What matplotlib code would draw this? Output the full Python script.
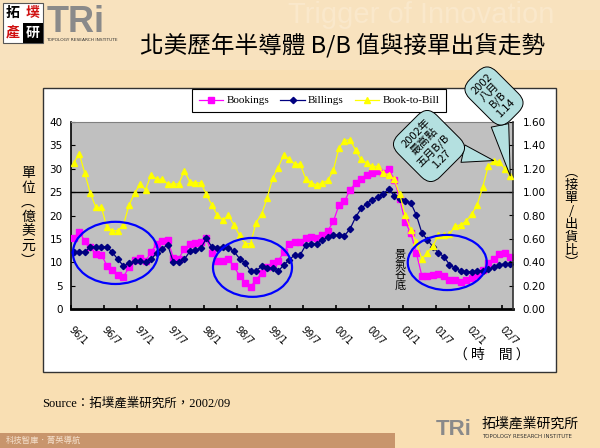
import matplotlib
matplotlib.use('Agg')
import matplotlib.pyplot as plt
from matplotlib.patches import Rectangle, Ellipse
from matplotlib.ticker import FormatStrFormatter

CJK = 'Noto Sans CJK TC'
plt.rcParams['font.family'] = ['DejaVu Sans', CJK]

# 96/1 ~ 02/8, 월별 데이터 (80개)
months = ['96/1', '96/7', '97/1', '97/7', '98/1', '98/7', '99/1',
          '99/7', '00/1', '00/7', '01/1', '01/7', '02/1', '02/7']

bookings = [15.2, 16.4, 14.6, 13.3, 11.8, 11.6, 9.3, 8.4, 7.3, 6.9,
            8.9, 10.5, 10.9, 10.3, 12.2, 13.9, 14.5, 14.8, 11.0, 10.8,
            12.8, 13.8, 14.1, 14.4, 15.1, 11.9, 10.3, 10.3, 10.6, 9.1,
            7.1, 5.6, 4.7, 6.3, 7.6, 8.9, 9.9, 10.3, 12.1, 14.0,
            14.4, 14.4, 15.1, 15.4, 15.1, 15.8, 16.7, 18.8, 22.2, 23.0,
            25.5, 26.9, 27.9, 28.7, 29.1, 29.6, 29.1, 30.0, 27.7, 23.5,
            18.6, 16.2, 12.0, 7.1, 7.1, 7.3, 7.5, 7.1, 6.1, 6.2,
            5.8, 6.2, 6.6, 7.3, 8.3, 9.8, 10.8, 11.7, 11.9, 11.2]

billings = [12.2, 12.2, 12.2, 13.3, 13.3, 13.3, 13.3, 12.1, 10.6, 9.2,
            9.8, 10.2, 10.2, 10.1, 10.6, 12.0, 12.9, 13.7, 10.1, 10.1,
            10.6, 12.3, 12.6, 13.0, 15.1, 13.3, 13.1, 13.3, 13.1, 12.3,
            10.8, 9.8, 8.1, 8.2, 9.1, 8.8, 8.7, 8.1, 9.4, 10.5,
            11.6, 11.6, 13.7, 13.8, 14.0, 14.8, 15.3, 15.8, 15.8, 15.7,
            17.1, 19.6, 21.5, 22.5, 23.4, 23.9, 24.6, 25.7, 24.2, 23.6,
            23.1, 22.7, 20.1, 16.3, 14.8, 13.3, 12.0, 11.2, 9.5, 8.7,
            8.2, 8.0, 8.0, 8.1, 8.2, 8.5, 8.9, 9.4, 9.7, 9.7]

book_to_bill = [1.25, 1.33, 1.16, 0.99, 0.87, 0.87, 0.70, 0.67, 0.67, 0.72,
                0.89, 0.99, 1.07, 1.02, 1.15, 1.11, 1.11, 1.07, 1.07, 1.07,
                1.18, 1.09, 1.08, 1.08, 0.98, 0.89, 0.80, 0.76, 0.80, 0.72,
                0.63, 0.56, 0.56, 0.74, 0.81, 0.95, 1.12, 1.21, 1.32, 1.28,
                1.24, 1.24, 1.11, 1.08, 1.06, 1.08, 1.10, 1.19, 1.38, 1.44,
                1.45, 1.36, 1.28, 1.25, 1.22, 1.22, 1.16, 1.15, 1.11, 0.98,
                0.80, 0.68, 0.57, 0.43, 0.48, 0.54, 0.63, 0.63, 0.64, 0.71,
                0.72, 0.75, 0.81, 0.89, 1.04, 1.22, 1.27, 1.26, 1.20, 1.14]

W, H = 600, 448
BG = '#F9DFB3'
BUBBLE = '#B4E0E0'


def fx(x):
    return x / W


def fy(y):
    return 1 - y / H


fig = plt.figure(figsize=(6, 4.48), dpi=100)
fig.patch.set_facecolor(BG)

# 상단 헤더 / 하단 띠
fig.patches.append(Rectangle((0, fy(70)), 1, 70 / H, transform=fig.transFigure,
                             fc='#F8E2BE', ec='none', zorder=-3))
fig.patches.append(Rectangle((0, 0), fx(395), 15 / H, transform=fig.transFigure,
                             fc='#C8956C', ec='none', zorder=-3))
fig.text(fx(288), fy(15), 'Trigger of Innovation', fontsize=21, color='#FAE8CB',
         family='Liberation Sans', ha='left', va='center', zorder=-2)

# 로고 (좌상단)
fig.patches.append(Rectangle((fx(3), fy(43)), 40 / W, 40 / H, transform=fig.transFigure,
                             fc='white', ec='#555555', lw=0.8, zorder=-2))
fig.patches.append(Rectangle((fx(23), fy(43)), 20 / W, 20 / H, transform=fig.transFigure,
                             fc='black', ec='none', zorder=-2))
for ch, x, y, c in [('拓', 13, 13, 'black'), ('墣', 33, 13, '#D01010'),
                    ('產', 13, 33, '#D01010'), ('研', 33, 33, 'white')]:
    fig.text(fx(x), fy(y), ch, fontsize=10, color=c, family=[CJK],
             ha='center', va='center', weight='bold')
fig.text(fx(47), fy(22), 'TRi', fontsize=26, color='#8A8A8A', weight='bold',
         family='Liberation Sans', ha='left', va='center')
fig.text(fx(46), fy(40), 'TOPOLOGY RESEARCH INSTITUTE', fontsize=3.2, color='#333333',
         ha='left', va='center')

# 로고 (우하단)
fig.text(fx(436), fy(429), 'TRi', fontsize=16, color='#8A8A8A', weight='bold',
         family='Liberation Sans', ha='left', va='center')
fig.text(fx(482), fy(424), '拓墣產業研究所', fontsize=10, color='black', family=[CJK],
         ha='left', va='center')
fig.text(fx(482), fy(436), 'TOPOLOGY RESEARCH INSTITUTE', fontsize=4, color='#333333',
         ha='left', va='center')
fig.text(fx(6), fy(440), '科技智庫．菁英導航', fontsize=6, color='#F4E0CC', family=[CJK],
         ha='left', va='center')

# 제목
fig.text(fx(343), fy(45), '北美歷年半導體 B/B 值與接單出貨走勢', fontsize=17,
         family=[CJK], ha='center', va='center')

# 흰색 차트 박스 (축보다 뒤에)
fig.patches.append(Rectangle((fx(43), fy(372)), (556 - 43) / W, (372 - 88) / H,
                             transform=fig.transFigure, fc='white', ec='#333333',
                             lw=1, zorder=-1))

ax = fig.add_axes([fx(71), fy(309), (513 - 71) / W, (309 - 122) / H])
ax.set_facecolor('#C0C0C0')
x = list(range(len(bookings)))

ax.axhline(25, color='black', lw=1, zorder=1)
l1, = ax.plot(x, bookings, color='#FF00FF', marker='s', ms=3.8, lw=0.9,
              label='Bookings', zorder=3)
l2, = ax.plot(x, billings, color='#000080', marker='D', ms=3.2, lw=0.9,
              label='Billings', zorder=4)

ax.set_xlim(-0.5, len(x) - 0.5)
ax.set_ylim(0, 40)
ax.set_yticks(range(0, 41, 5))
ax.tick_params(axis='y', direction='in', length=3, pad=6, labelsize=7.5)

ax.set_xticks([k - 0.5 for k in range(0, len(x), 6)])
ax.set_xticklabels([])
ax.tick_params(axis='x', which='major', direction='in', length=3, width=1.2)
ax.set_xticks(range(0, len(x), 6), minor=True)
ax.set_xticklabels(months, minor=True, rotation=-45, ha='left', va='top',
                   rotation_mode='anchor', fontsize=7)
ax.tick_params(axis='x', which='minor', length=0, pad=11)

ax.spines['bottom'].set_linewidth(2)
ax.spines['left'].set_linewidth(1.2)
ax.spines['top'].set_color('#808080')
ax.spines['top'].set_linewidth(0.8)
ax.spines['right'].set_visible(False)

ax2 = ax.twinx()
l3, = ax2.plot(x, book_to_bill, color='#FFFF00', marker='^', ms=4.5, lw=0.9,
               label='Book-to-Bill', zorder=3)
ax2.set_ylim(0, 1.6)
ax2.set_yticks([i * 0.2 for i in range(9)])
ax2.yaxis.set_major_formatter(FormatStrFormatter('%.2f'))
ax2.tick_params(axis='y', direction='in', length=3, pad=7, labelsize=7.5)
for s in ['left', 'top', 'bottom']:
    ax2.spines[s].set_visible(False)
ax2.spines['right'].set_color('#303030')
ax2.spines['right'].set_linewidth(1.2)

leg = ax2.legend(handles=[l1, l2, l3], loc='upper left', ncol=3,
                 bbox_to_anchor=(fx(192), fy(89)), bbox_transform=fig.transFigure,
                 fancybox=False, edgecolor='black', framealpha=1,
                 prop={'family': 'Liberation Serif', 'size': 8},
                 handlelength=2.2, handletextpad=0.3, columnspacing=1.0,
                 borderpad=0.6, borderaxespad=0)
leg.get_frame().set_linewidth(0.8)

# 경기 저점 표시 (타원)
for cx, cy, w, h in [(7.55, 12.0, 15.4, 13.3), (32.35, 8.9, 14.3, 12.6),
                     (67.6, 9.95, 14.3, 11.8)]:
    ax2.add_patch(Ellipse((cx, cy), w, h, transform=ax.transData, fill=False,
                          ec='#0000FF', lw=1.6, zorder=5))
ax2.text(59.0, 8.3, '景\n氣\n谷\n底', transform=ax.transData, fontsize=8,
         family=[CJK], ha='center', va='center', linespacing=1.0, zorder=6)

# 말풍선
bubble_box = dict(boxstyle='round,pad=0.6,rounding_size=1.2', fc=BUBBLE,
                  ec='black', lw=0.7)
bubble_tail = dict(arrowstyle='wedge,tail_width=1.6,shrink_factor=0.5',
                   fc=BUBBLE, ec='black', lw=0.7, shrinkA=0, shrinkB=0)
ax2.annotate('2002年\n最高點\n五月B/B\n1.27', xy=(76, book_to_bill[76]),
             xytext=(fx(429), fy(146)), textcoords='figure fraction',
             ha='center', va='center', rotation=45, fontsize=8, family=[CJK],
             linespacing=1.15, multialignment='center', zorder=7,
             bbox=bubble_box, arrowprops=bubble_tail, annotation_clip=False)
ax2.annotate('2002\n八月\nB/B\n1.14', xy=(79, book_to_bill[79]),
             xytext=(fx(494), fy(96)), textcoords='figure fraction',
             ha='center', va='center', rotation=45, fontsize=8, family=[CJK],
             linespacing=1.15, multialignment='center', zorder=7,
             bbox=bubble_box, arrowprops=bubble_tail, annotation_clip=False)

# 축 제목
fig.text(fx(28), fy(217), '單\n位\n︵\n億\n美\n元\n︶', fontsize=10, family=[CJK],
         ha='center', va='center', linespacing=1.05)
fig.text(fx(571), fy(218), '︵\n接\n單\n/\n出\n貨\n比\n︶', fontsize=9.5, family=[CJK],
         ha='center', va='center', linespacing=1.0)
fig.text(fx(492), fy(355), '（ 時　間 ）', fontsize=10, family=[CJK],
         ha='center', va='center')

fig.text(fx(42), fy(403), 'Source：拓墣產業研究所，2002/09', fontsize=9,
         family=['Liberation Serif', CJK], ha='left', va='center')

fig.savefig('out.png', dpi=100, facecolor=fig.get_facecolor())
